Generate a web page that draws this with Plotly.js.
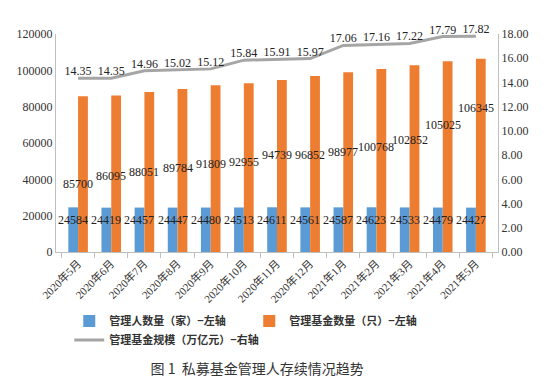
<!DOCTYPE html>
<html><head><meta charset="utf-8">
<script src="https://cdn.plot.ly/plotly-3.0.1.min.js"></script>
<style>html,body{margin:0;padding:0;background:#fff;}#chart{width:553px;height:382px;}</style>
</head><body><div id="chart"></div>
<script>
const months = ["2020年5月","2020年6月","2020年7月","2020年8月","2020年9月","2020年10月","2020年11月","2020年12月","2021年1月","2021年2月","2021年3月","2021年4月","2021年5月"];
const managers = [24584,24419,24457,24447,24480,24513,24611,24561,24587,24623,24533,24479,24427];
const funds = [85700,86095,88051,89784,91809,92955,94739,96852,98977,100768,102852,105025,106345];
const scale = [14.35,14.35,14.96,15.02,15.12,15.84,15.91,15.97,17.06,17.16,17.22,17.79,17.82];
// where the original chart placed its fund-count labels (left-axis units)
const fundLabelPos = [37400,41800,44000,46200,48400,49500,53400,53400,55000,57800,61600,69900,79300];
const managerLabelPos = 17600;

const serif = "'Liberation Serif', 'Noto Sans CJK SC', serif";
const cjk = "'Noto Sans CJK SC', 'Liberation Serif', serif";

const traces = [
  {type:'bar', name:'管理人数量（家）−左轴', x:months, y:managers, marker:{color:'#5B9BD5'}, yaxis:'y'},
  {type:'bar', name:'管理基金数量（只）−左轴', x:months, y:funds, marker:{color:'#ED7D31'}, yaxis:'y'},
  {type:'scatter', mode:'lines+text', name:'管理基金规模（万亿元）−右轴', x:months, y:scale, yaxis:'y2',
   line:{color:'#A5A5A5', width:3}, text:scale.map(v=>v.toFixed(2)), textposition:'top center',
   textfont:{family:serif, size:12, color:'#222'}, cliponaxis:false}
];

const annotations = [];
months.forEach((m,i)=>{
  annotations.push({x:m, y:fundLabelPos[i], xref:'x', yref:'y', text:String(funds[i]), showarrow:false,
    font:{family:serif, size:12, color:'#222'}});
  annotations.push({x:m, y:managerLabelPos, xref:'x', yref:'y', xshift:-5, text:String(managers[i]), showarrow:false,
    font:{family:serif, size:12, color:'#222'}});
});

const layout = {
  width:553, height:382,
  margin:{l:56, r:55, t:34, b:130},
  paper_bgcolor:'#fff', plot_bgcolor:'#fff',
  barmode:'group', bargap:0.41, bargroupgap:0,
  showlegend:true,
  legend:{orientation:'h', x:0.03, xanchor:'left', y:-0.25, yanchor:'top', entrywidth:135,
    font:{family:cjk, size:11, color:'#333', weight:'bold'}, tracegroupgap:0, itemwidth:30},
  title:{text:'图 1  私募基金管理人存续情况趋势', x:0.465, xanchor:'center', yref:'container', y:0.035, yanchor:'middle',
    font:{family:cjk, size:14, color:'#333'}},
  xaxis:{type:'category', tickangle:-45, tickson:'boundaries', ticks:'outside', ticklen:5, tickcolor:'#BFBFBF',
    showline:true, linecolor:'#BFBFBF', linewidth:1, showgrid:false, zeroline:false,
    tickfont:{family:serif, size:11, color:'#333'}},
  yaxis:{range:[0,120000], tickvals:[0,20000,40000,60000,80000,100000,120000], ticktext:['0','20000','40000','60000','80000','100000','120000'],
    showline:true, linecolor:'#BFBFBF', linewidth:1, showgrid:false, zeroline:false, ticks:'',
    tickfont:{family:serif, size:12, color:'#333'}},
  yaxis2:{range:[0,18], overlaying:'y', side:'right', dtick:2, tickformat:'.2f',
    showline:true, linecolor:'#BFBFBF', linewidth:1, showgrid:false, zeroline:false, ticks:'',
    tickfont:{family:serif, size:12, color:'#333'}},
  annotations:annotations
};

Plotly.newPlot('chart', traces, layout, {displayModeBar:false, staticPlot:true});
</script></body></html>
